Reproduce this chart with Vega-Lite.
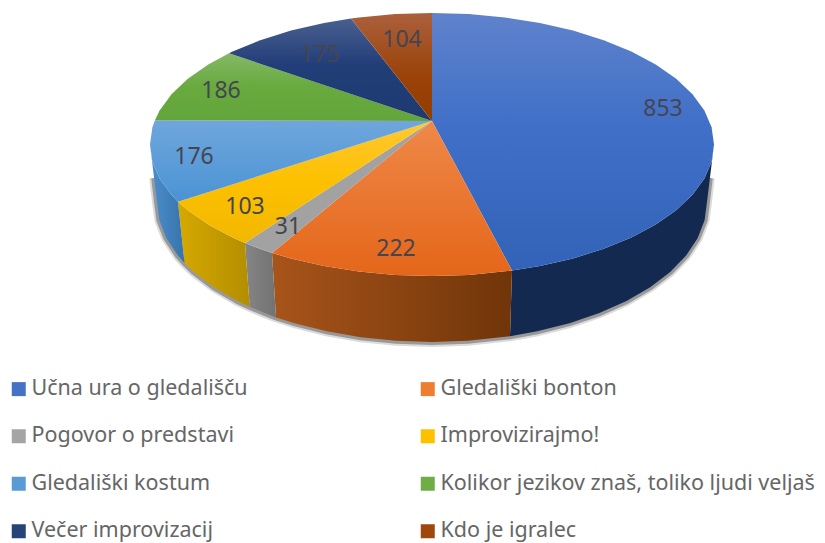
{"$schema":"https://vega.github.io/schema/vega-lite/v6.json","width":825,"height":543,"padding":0,"autosize":{"type":"none"},"background":"white","config":{"view":{"stroke":null}},
"datasets":{
"slices":[
{"id":1,"name":"Učna ura o gledališču","value":853,"x":663,"y":109},
{"id":2,"name":"Gledališki bonton","value":222,"x":396,"y":249},
{"id":3,"name":"Pogovor o predstavi","value":31,"x":288,"y":227},
{"id":4,"name":"Improvizirajmo!","value":103,"x":245,"y":207},
{"id":5,"name":"Gledališki kostum","value":176,"x":194,"y":157},
{"id":6,"name":"Kolikor jezikov znaš, toliko ljudi veljaš","value":186,"x":221,"y":91},
{"id":7,"name":"Večer improvizacij","value":175,"x":320,"y":55},
{"id":8,"name":"Kdo je igralec","value":104,"x":402,"y":40}],
"outline":[
{"piece":"rim","n":1,"x":709.8,"y":178},{"piece":"rim","n":2,"x":707,"y":202},{"piece":"rim","n":3,"x":704.6,"y":220.3},{"piece":"rim","n":4,"x":697.6,"y":238.2},{"piece":"rim","n":5,"x":686.1,"y":255.6},{"piece":"rim","n":6,"x":670.2,"y":272},{"piece":"rim","n":7,"x":650.2,"y":287.2},{"piece":"rim","n":8,"x":626.5,"y":301},{"piece":"rim","n":9,"x":599.4,"y":313.1},{"piece":"rim","n":10,"x":569.5,"y":323.2},{"piece":"rim","n":11,"x":537.2,"y":331.3},{"piece":"rim","n":12,"x":510,"y":336.3},{"piece":"rim","n":13,"x":467.9,"y":340.8},{"piece":"rim","n":14,"x":432,"y":342},{"piece":"rim","n":15,"x":396.1,"y":340.8},{"piece":"rim","n":16,"x":360.8,"y":337.2},{"piece":"rim","n":17,"x":326.8,"y":331.3},{"piece":"rim","n":18,"x":294.5,"y":323.2},{"piece":"rim","n":19,"x":276,"y":317.4},{"piece":"rim","n":20,"x":262.9,"y":312.3},{"piece":"rim","n":21,"x":249.7,"y":306.7},{"piece":"rim","n":22,"x":237.5,"y":301},{"piece":"rim","n":23,"x":213.8,"y":287.2},{"piece":"rim","n":24,"x":193.8,"y":272},{"piece":"rim","n":25,"x":184.5,"y":263},{"piece":"rim","n":26,"x":177.9,"y":255.6},{"piece":"rim","n":27,"x":166.4,"y":238.2},{"piece":"rim","n":28,"x":159.4,"y":220.3},{"piece":"rim","n":29,"x":157,"y":202},{"piece":"rim","n":30,"x":154.2,"y":178},
{"piece":"side1","n":1,"x":714,"y":144.5},{"piece":"side1","n":2,"x":711.6,"y":161.7},{"piece":"side1","n":3,"x":704.4,"y":178.5},{"piece":"side1","n":4,"x":692.5,"y":194.8},{"piece":"side1","n":5,"x":676.2,"y":210.3},{"piece":"side1","n":6,"x":655.7,"y":224.6},{"piece":"side1","n":7,"x":631.4,"y":237.5},{"piece":"side1","n":8,"x":603.7,"y":248.8},{"piece":"side1","n":9,"x":573,"y":258.4},{"piece":"side1","n":10,"x":539.9,"y":266},{"piece":"side1","n":11,"x":512,"y":270.6},{"piece":"side1","n":12,"x":510,"y":336.3},{"piece":"side1","n":13,"x":537.2,"y":331.3},{"piece":"side1","n":14,"x":569.5,"y":323.2},{"piece":"side1","n":15,"x":599.4,"y":313.1},{"piece":"side1","n":16,"x":626.5,"y":301},{"piece":"side1","n":17,"x":650.2,"y":287.2},{"piece":"side1","n":18,"x":670.2,"y":272},{"piece":"side1","n":19,"x":686.1,"y":255.6},{"piece":"side1","n":20,"x":697.6,"y":238.2},{"piece":"side1","n":21,"x":704.6,"y":220.3},{"piece":"side1","n":22,"x":707,"y":202},
{"piece":"side2","n":1,"x":512,"y":270.6},{"piece":"side2","n":2,"x":468.8,"y":274.9},{"piece":"side2","n":3,"x":432,"y":276},{"piece":"side2","n":4,"x":395.2,"y":274.9},{"piece":"side2","n":5,"x":359,"y":271.5},{"piece":"side2","n":6,"x":324.1,"y":266},{"piece":"side2","n":7,"x":291,"y":258.4},{"piece":"side2","n":8,"x":272,"y":252.9},{"piece":"side2","n":9,"x":276,"y":317.4},{"piece":"side2","n":10,"x":294.5,"y":323.2},{"piece":"side2","n":11,"x":326.8,"y":331.3},{"piece":"side2","n":12,"x":360.8,"y":337.2},{"piece":"side2","n":13,"x":396.1,"y":340.8},{"piece":"side2","n":14,"x":432,"y":342},{"piece":"side2","n":15,"x":467.9,"y":340.8},{"piece":"side2","n":16,"x":510,"y":336.3},
{"piece":"side3","n":1,"x":272,"y":252.9},{"piece":"side3","n":2,"x":258.5,"y":248.2},{"piece":"side3","n":3,"x":245,"y":242.9},{"piece":"side3","n":4,"x":249.7,"y":306.7},{"piece":"side3","n":5,"x":262.9,"y":312.3},{"piece":"side3","n":6,"x":276,"y":317.4},
{"piece":"side4","n":1,"x":245,"y":242.9},{"piece":"side4","n":2,"x":232.6,"y":237.5},{"piece":"side4","n":3,"x":208.3,"y":224.6},{"piece":"side4","n":4,"x":187.8,"y":210.3},{"piece":"side4","n":5,"x":178,"y":201.8},{"piece":"side4","n":6,"x":184.5,"y":263},{"piece":"side4","n":7,"x":193.8,"y":272},{"piece":"side4","n":8,"x":213.8,"y":287.2},{"piece":"side4","n":9,"x":237.5,"y":301},{"piece":"side4","n":10,"x":249.7,"y":306.7},
{"piece":"side5","n":1,"x":178,"y":201.8},{"piece":"side5","n":2,"x":171.5,"y":194.8},{"piece":"side5","n":3,"x":159.6,"y":178.5},{"piece":"side5","n":4,"x":152.4,"y":161.7},{"piece":"side5","n":5,"x":150,"y":144.5},{"piece":"side5","n":6,"x":157,"y":202},{"piece":"side5","n":7,"x":159.4,"y":220.3},{"piece":"side5","n":8,"x":166.4,"y":238.2},{"piece":"side5","n":9,"x":177.9,"y":255.6},{"piece":"side5","n":10,"x":184.5,"y":263},
{"piece":"top1","n":0,"x":432,"y":121},{"piece":"top1","n":1,"x":432,"y":13},{"piece":"top1","n":2,"x":468.8,"y":14.1},{"piece":"top1","n":3,"x":505,"y":17.5},{"piece":"top1","n":4,"x":539.9,"y":23},{"piece":"top1","n":5,"x":573,"y":30.6},{"piece":"top1","n":6,"x":603.7,"y":40.2},{"piece":"top1","n":7,"x":631.4,"y":51.5},{"piece":"top1","n":8,"x":655.7,"y":64.4},{"piece":"top1","n":9,"x":676.2,"y":78.8},{"piece":"top1","n":10,"x":692.5,"y":94.2},{"piece":"top1","n":11,"x":704.4,"y":110.5},{"piece":"top1","n":12,"x":711.6,"y":127.3},{"piece":"top1","n":13,"x":714,"y":144.5},{"piece":"top1","n":14,"x":711.6,"y":161.7},{"piece":"top1","n":15,"x":704.4,"y":178.5},{"piece":"top1","n":16,"x":692.5,"y":194.8},{"piece":"top1","n":17,"x":676.2,"y":210.3},{"piece":"top1","n":18,"x":655.7,"y":224.6},{"piece":"top1","n":19,"x":631.4,"y":237.5},{"piece":"top1","n":20,"x":603.7,"y":248.8},{"piece":"top1","n":21,"x":573,"y":258.4},{"piece":"top1","n":22,"x":539.9,"y":266},{"piece":"top1","n":23,"x":512,"y":270.6},
{"piece":"top2","n":0,"x":432,"y":121},{"piece":"top2","n":1,"x":512,"y":270.6},{"piece":"top2","n":2,"x":468.8,"y":274.9},{"piece":"top2","n":3,"x":432,"y":276},{"piece":"top2","n":4,"x":395.2,"y":274.9},{"piece":"top2","n":5,"x":359,"y":271.5},{"piece":"top2","n":6,"x":324.1,"y":266},{"piece":"top2","n":7,"x":291,"y":258.4},{"piece":"top2","n":8,"x":272,"y":252.9},
{"piece":"top3","n":0,"x":432,"y":121},{"piece":"top3","n":1,"x":272,"y":252.9},{"piece":"top3","n":2,"x":258.5,"y":248.2},{"piece":"top3","n":3,"x":245,"y":242.9},
{"piece":"top4","n":0,"x":432,"y":121},{"piece":"top4","n":1,"x":245,"y":242.9},{"piece":"top4","n":2,"x":232.6,"y":237.5},{"piece":"top4","n":3,"x":208.3,"y":224.6},{"piece":"top4","n":4,"x":187.8,"y":210.3},{"piece":"top4","n":5,"x":178,"y":201.8},
{"piece":"top5","n":0,"x":432,"y":121},{"piece":"top5","n":1,"x":178,"y":201.8},{"piece":"top5","n":2,"x":171.5,"y":194.8},{"piece":"top5","n":3,"x":159.6,"y":178.5},{"piece":"top5","n":4,"x":152.4,"y":161.7},{"piece":"top5","n":5,"x":150,"y":144.5},{"piece":"top5","n":6,"x":152.4,"y":127.3},{"piece":"top5","n":7,"x":155,"y":120.3},
{"piece":"top6","n":0,"x":432,"y":121},{"piece":"top6","n":1,"x":155,"y":120.3},{"piece":"top6","n":2,"x":159.6,"y":110.5},{"piece":"top6","n":3,"x":171.5,"y":94.2},{"piece":"top6","n":4,"x":187.8,"y":78.8},{"piece":"top6","n":5,"x":208.3,"y":64.4},{"piece":"top6","n":6,"x":229,"y":53.3},
{"piece":"top7","n":0,"x":432,"y":121},{"piece":"top7","n":1,"x":229,"y":53.3},{"piece":"top7","n":2,"x":232.6,"y":51.5},{"piece":"top7","n":3,"x":260.3,"y":40.2},{"piece":"top7","n":4,"x":291,"y":30.6},{"piece":"top7","n":5,"x":324.1,"y":23},{"piece":"top7","n":6,"x":351,"y":18.5},
{"piece":"top8","n":0,"x":432,"y":121},{"piece":"top8","n":1,"x":351,"y":18.5},{"piece":"top8","n":2,"x":359,"y":17.5},{"piece":"top8","n":3,"x":395.2,"y":14.1},{"piece":"top8","n":4,"x":432,"y":13}
]},
"encoding":{"x":{"field":"x","type":"quantitative","scale":{"domain":[0,825],"nice":false,"zero":false},"axis":null},"y":{"field":"y","type":"quantitative","scale":{"domain":[0,543],"reverse":true,"nice":false,"zero":false},"axis":null}},
"layer":[
{"data":{"name":"outline"},"transform":[{"filter":"datum.piece=='rim'"}],"mark":{"type":"line","stroke":"#000000","strokeOpacity":0.14,"strokeWidth":10},"encoding":{"order":{"field":"n"}}},
{"data":{"name":"outline"},"transform":[{"filter":"datum.piece=='rim'"}],"mark":{"type":"line","stroke":"#000000","strokeOpacity":0.3,"strokeWidth":6},"encoding":{"order":{"field":"n"}}},
{"data":{"name":"outline"},"transform":[{"filter":"datum.piece=='side1'"}],"mark":{"type":"line","strokeWidth":0,"fill":"#14294f"},"encoding":{"order":{"field":"n"}}},
{"data":{"name":"outline"},"transform":[{"filter":"datum.piece=='side2'"}],"mark":{"type":"line","strokeWidth":0,"fill":{"gradient":"linear","x1":0,"y1":0,"x2":1,"y2":0,"stops":[{"offset":0,"color":"#a8541a"},{"offset":1,"color":"#703509"}]}},"encoding":{"order":{"field":"n"}}},
{"data":{"name":"outline"},"transform":[{"filter":"datum.piece=='side3'"}],"mark":{"type":"line","strokeWidth":0,"fill":{"gradient":"linear","x1":0,"y1":0,"x2":1,"y2":0,"stops":[{"offset":0,"color":"#858585"},{"offset":1,"color":"#727272"}]}},"encoding":{"order":{"field":"n"}}},
{"data":{"name":"outline"},"transform":[{"filter":"datum.piece=='side4'"}],"mark":{"type":"line","strokeWidth":0,"fill":{"gradient":"linear","x1":0,"y1":0,"x2":1,"y2":0,"stops":[{"offset":0,"color":"#d6a800"},{"offset":1,"color":"#b28e00"}]}},"encoding":{"order":{"field":"n"}}},
{"data":{"name":"outline"},"transform":[{"filter":"datum.piece=='side5'"}],"mark":{"type":"line","strokeWidth":0,"fill":{"gradient":"linear","x1":0,"y1":0,"x2":1,"y2":0,"stops":[{"offset":0,"color":"#4b8fd0"},{"offset":1,"color":"#3773a8"}]}},"encoding":{"order":{"field":"n"}}},
{"data":{"name":"outline"},"transform":[{"filter":"datum.piece=='top1'"}],"mark":{"type":"line","strokeWidth":0,"fill":{"gradient":"linear","x1":0,"y1":0,"x2":0,"y2":1,"stops":[{"offset":0,"color":"#5f82cc"},{"offset":0.45,"color":"#3f6fc7"},{"offset":1,"color":"#3363b8"}]}},"encoding":{"order":{"field":"n"}}},
{"data":{"name":"outline"},"transform":[{"filter":"datum.piece=='top2'"}],"mark":{"type":"line","strokeWidth":0,"fill":{"gradient":"linear","x1":0,"y1":0,"x2":0,"y2":1,"stops":[{"offset":0,"color":"#ef8848"},{"offset":1,"color":"#e4661a"}]}},"encoding":{"order":{"field":"n"}}},
{"data":{"name":"outline"},"transform":[{"filter":"datum.piece=='top3'"}],"mark":{"type":"line","strokeWidth":0,"fill":"#a2a2a2"},"encoding":{"order":{"field":"n"}}},
{"data":{"name":"outline"},"transform":[{"filter":"datum.piece=='top4'"}],"mark":{"type":"line","strokeWidth":0,"fill":{"gradient":"linear","x1":0,"y1":0,"x2":0,"y2":1,"stops":[{"offset":0,"color":"#ffc832"},{"offset":0.5,"color":"#fdc000"},{"offset":1,"color":"#f2b800"}]}},"encoding":{"order":{"field":"n"}}},
{"data":{"name":"outline"},"transform":[{"filter":"datum.piece=='top5'"}],"mark":{"type":"line","strokeWidth":0,"fill":{"gradient":"linear","x1":0,"y1":0,"x2":0,"y2":1,"stops":[{"offset":0,"color":"#6fa6dc"},{"offset":1,"color":"#4b93d5"}]}},"encoding":{"order":{"field":"n"}}},
{"data":{"name":"outline"},"transform":[{"filter":"datum.piece=='top6'"}],"mark":{"type":"line","strokeWidth":0,"fill":{"gradient":"linear","x1":0,"y1":0,"x2":0,"y2":1,"stops":[{"offset":0,"color":"#85b866"},{"offset":0.5,"color":"#68aa3e"},{"offset":1,"color":"#62a53a"}]}},"encoding":{"order":{"field":"n"}}},
{"data":{"name":"outline"},"transform":[{"filter":"datum.piece=='top7'"}],"mark":{"type":"line","strokeWidth":0,"fill":{"gradient":"linear","x1":0,"y1":0,"x2":0,"y2":1,"stops":[{"offset":0,"color":"#4a5f90"},{"offset":0.45,"color":"#223e78"},{"offset":1,"color":"#1e3a70"}]}},"encoding":{"order":{"field":"n"}}},
{"data":{"name":"outline"},"transform":[{"filter":"datum.piece=='top8'"}],"mark":{"type":"line","strokeWidth":0,"fill":{"gradient":"linear","x1":0,"y1":0,"x2":0,"y2":1,"stops":[{"offset":0,"color":"#ab603c"},{"offset":0.6,"color":"#9a4208"},{"offset":1,"color":"#933d00"}]}},"encoding":{"order":{"field":"n"}}},
{"data":{"name":"slices"},"mark":{"type":"text","font":"Noto Sans","fontSize":23,"fill":"#45454f","baseline":"middle","align":"center"},"encoding":{"text":{"field":"value","type":"quantitative"}}},
{"data":{"name":"slices"},"mark":{"type":"point","filled":true,"shape":"square","opacity":0,"size":196},"encoding":{"color":{"field":"name","type":"nominal","scale":{"domain":["Učna ura o gledališču","Gledališki bonton","Pogovor o predstavi","Improvizirajmo!","Gledališki kostum","Kolikor jezikov znaš, toliko ljudi veljaš","Večer improvizacij","Kdo je igralec"],"range":["#4472c4","#ed7d31","#a5a5a5","#ffc000","#5b9bd5","#70ad47","#264478","#9e480e"]},"legend":{"title":null,"orient":"none","direction":"horizontal","legendX":8,"legendY":378,"columns":2,"gridAlign":"each","columnPadding":169,"rowPadding":24.5,"symbolType":"square","symbolSize":196,"symbolOpacity":1,"symbolStrokeWidth":0,"labelFont":"Noto Sans","labelFontSize":21.5,"labelColor":"#666666","labelLimit":420,"labelOffset":2}}}}
]}
